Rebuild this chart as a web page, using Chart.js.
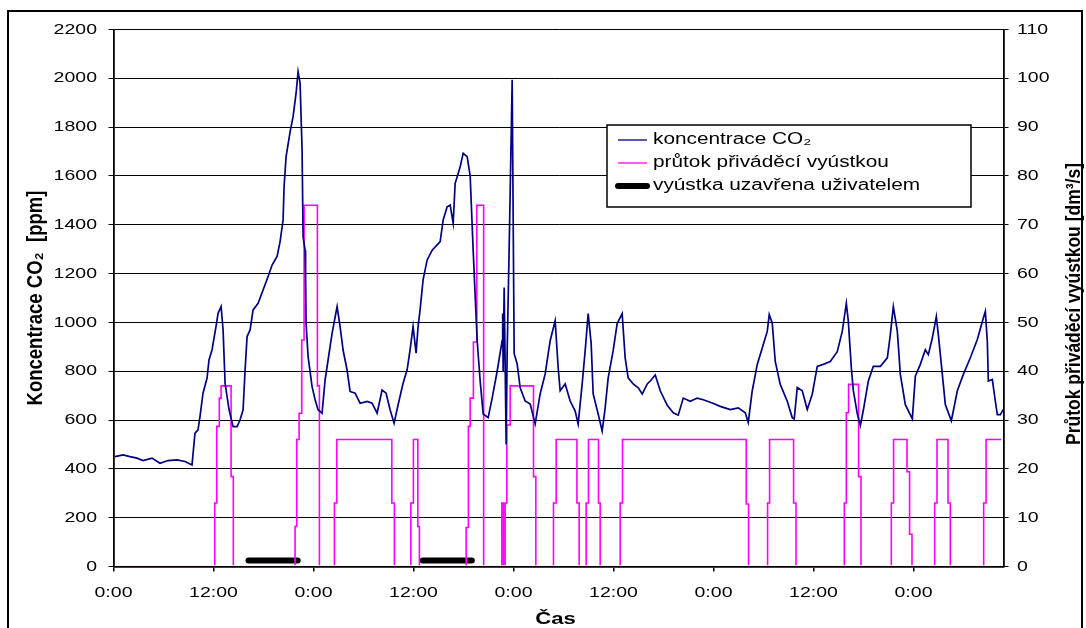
<!DOCTYPE html>
<html>
<head>
<meta charset="utf-8">
<script src="https://cdn.jsdelivr.net/npm/chart.js@4.4.1/dist/chart.umd.min.js"></script>
<style>
html,body{margin:0;padding:0;background:#fff;}
body{width:1086px;height:628px;overflow:hidden;position:relative;}
#frame{position:absolute;left:7px;top:10px;width:1076px;height:650px;border:2px solid #000;box-sizing:border-box;}
canvas{position:absolute;left:0;top:0;}
</style>
</head>
<body>
<div id="frame"></div>
<canvas id="chart" width="1086" height="628"></canvas>
<script>

// time in hours from the first 0:00, CO2 in ppm
const co2Hours=[0.18,1.14,1.98,2.82,3.54,4.62,5.58,6.54,7.62,8.58,
9.42,9.78,10.14,10.38,10.74,11.22,11.46,11.82,12.30,12.55,
12.91,13.15,13.39,13.63,13.87,14.35,14.83,15.19,15.55,15.79,
16.03,16.39,16.75,17.35,17.95,18.55,19.03,19.63,19.99,20.35,
20.47,20.71,21.19,21.55,21.91,22.15,22.39,22.63,22.75,22.99,
23.05,23.11,23.35,23.83,24.19,24.55,25.03,25.39,25.75,26.23,
26.83,27.19,27.55,28.03,28.39,28.99,29.59,30.43,31.03,31.63,
32.23,32.71,33.19,33.67,34.15,34.75,35.23,35.59,35.95,36.31,
36.55,36.79,37.15,37.64,38.24,39.20,39.56,40.04,40.40,40.76,
41.00,41.60,41.96,42.44,42.80,43.16,43.64,44.00,44.36,44.96,
45.44,46.04,46.64,46.70,46.76,46.88,47.12,47.24,47.48,47.72,
47.84,47.96,48.08,48.44,48.80,49.40,50.00,50.60,51.20,51.80,
52.40,53.00,53.36,53.60,54.20,54.80,55.40,55.76,56.24,56.60,
56.96,57.32,57.56,58.16,58.64,59.00,59.36,59.96,60.44,61.04,
61.40,61.76,62.36,62.97,63.45,64.05,64.41,65.01,65.61,66.45,
67.17,67.77,68.37,69.21,70.05,70.77,71.85,72.81,74.01,74.97,
75.81,76.17,76.65,77.25,77.85,78.45,78.69,79.05,79.41,80.01,
80.85,81.45,81.69,82.05,82.65,83.25,83.85,84.45,85.17,86.01,
86.85,87.45,87.94,88.18,88.54,88.78,89.26,89.62,89.98,90.58,
91.18,92.02,92.86,93.22,93.58,94.06,94.42,95.02,95.86,96.22,
96.82,97.42,97.78,98.26,98.74,98.98,99.46,99.82,100.54,101.26,
101.98,102.82,103.66,104.38,104.62,104.86,104.98,105.46,105.82,106.06,
106.42,106.78];

const co2Ppm=[450,457,450,444,434,444,423,434,437,430,
416,546,560,614,710,771,846,887,983,1038,
1065,969,751,696,642,573,573,601,642,805,
942,969,1051,1078,1133,1188,1235,1270,1331,1420,
1556,1679,1780,1843,1939,2027,1980,1706,1351,1296,
1187,996,860,737,683,642,628,764,846,955,
1065,983,887,805,717,710,669,676,669,628,
723,710,642,587,662,751,805,887,983,874,
983,1051,1174,1256,1296,1331,1420,1474,1481,1406,
1570,1638,1693,1679,1600,1295,925,760,625,610,
690,800,925,1036,800,1143,500,884,1308,1760,
1994,1431,872,830,732,678,666,584,707,789,
925,1007,814,720,748,678,637,584,748,884,
1036,913,707,625,555,650,773,884,995,1036,
855,773,748,732,707,748,760,785,720,660,
630,620,690,677,690,683,670,656,643,650,
630,590,720,828,895,963,1032,997,840,746,
677,610,605,733,720,643,706,820,828,840,
880,963,1078,1004,814,720,625,577,640,760,
820,820,855,950,1065,963,787,663,605,780,
828,888,868,936,1024,950,787,663,597,720,
787,855,930,1018,1045,922,760,766,677,622,
622,643];

// supply outlet flow [dm3/s]: hour where the value changes, and the new value
const flowHours=[0,
12.15,12.39,12.70,12.91,14.11,14.38,
21.79,21.99,22.27,22.59,22.87,24.47,24.71,
26.51,26.79,33.40,33.71,
35.68,35.99,36.52,36.71,
42.32,42.59,42.80,43.19,43.60,44.42,
46.60,46.80,47.00,47.20,47.60,50.40,50.68,
52.80,53.12,55.61,55.88,
56.72,57.00,58.20,58.40,
60.80,61.08,75.93,76.21,
78.49,78.73,81.61,81.90,
87.70,87.94,88.21,89.41,89.70,
93.34,93.61,95.22,95.53,95.82,
98.54,98.82,100.14,100.42,
104.42,104.71,106.51];

const flowValues=[0,
13,28.7,34.5,37,18.4,0,
8.2,26,31.4,46.4,74,37,0,
13,26,13,0,
13,26,8.2,0,
8,28.7,34.5,46,74,0,
13,0,13,29,37,18.4,0,
13,26,13,0,
13,26,13,0,
13,26,12.8,0,
13,26,13,0,
13,31.5,37.3,18.4,0,
13,26,19.4,6.6,0,
13,26,13,0,
13,26,26];

// periods when the outlet was closed by the user
const closedStart=[16.2,37.1];
const closedEnd=[22.1,43.0];
const closedLevel=25;

const timeLabels=["0:00","12:00"];
const seriesLabels=["koncentrace CO\u2082","průtok přiváděcí vyústkou","vyústka uzavřena uživatelem"];
const yTitle="Koncentrace CO\u2082  [ppm]";
const y2Title="Průtok přiváděcí vyústkou [dm\u00b3/s]";
const xTitle="Čas";

const FONT='"Liberation Sans", Arial, sans-serif';
const STRETCH=1.3;

function label(ctx,s,x,y,size,o){
o=o||{};
ctx.save();
ctx.translate(x,y);
if(o.vertical){ctx.rotate(-Math.PI/2);ctx.scale(1,o.stretch||STRETCH);}else{ctx.scale(o.stretch||STRETCH,1);}
ctx.font=(o.bold?"bold ":"")+size+"px "+FONT;
ctx.textAlign=o.align||"left";
ctx.textBaseline="middle";
ctx.fillStyle="#000";
ctx.fillText(s,0,0);
ctx.restore();
}

const co2Data=co2Hours.map((h,i)=>({x:h,y:co2Ppm[i]}));
const flowData=flowHours.map((h,i)=>({x:h,y:flowValues[i]}));
const closedData=[];
closedStart.forEach((s,i)=>{
closedData.push({x:s,y:closedLevel});
closedData.push({x:closedEnd[i],y:closedLevel});
closedData.push({x:closedEnd[i]+1,y:null});
});

const textPlugin={
id:"texts",
afterDraw(chart){
const ctx=chart.ctx;
const sx=chart.scales.x, sy=chart.scales.y, sy2=chart.scales.y2;
const area=chart.chartArea;
const midY=(area.top+area.bottom)/2;

sy.ticks.forEach(t=>label(ctx,String(t.value),sy.right-16.5,sy.getPixelForValue(t.value),15,{align:"right"}));
sy2.ticks.forEach(t=>label(ctx,String(t.value),sy2.left+13.5,sy2.getPixelForValue(t.value),15));
sx.ticks.forEach(t=>label(ctx,timeLabels[Math.round(t.value/12)%2],sx.getPixelForValue(t.value),593,15,{align:"center"}));

label(ctx,yTitle,36,midY,18.5,{bold:true,align:"center",vertical:true,stretch:1.15});
label(ctx,y2Title,1074,midY+6,17.5,{bold:true,align:"center",vertical:true,stretch:1.15});
label(ctx,xTitle,(area.left+area.right)/2-3,619,17,{bold:true,align:"center"});

// legend box
const lx=607, ly=125, lw=364, lh=82;
ctx.save();
ctx.fillStyle="#fff";
ctx.fillRect(lx,ly,lw,lh);
ctx.strokeStyle="#000";
ctx.lineWidth=1.5;
ctx.strokeRect(lx,ly,lw,lh);
chart.data.datasets.forEach((ds,i)=>{
const yy=ly+15+i*23;
ctx.beginPath();
ctx.moveTo(lx+11,yy);
ctx.lineTo(lx+40,yy);
ctx.strokeStyle=ds.borderColor;
ctx.lineWidth=i===2?6:1.3;
ctx.lineCap=i===2?"round":"butt";
ctx.stroke();
label(ctx,ds.label,lx+46,yy,16);
});
ctx.restore();
}
};

new Chart(document.getElementById("chart"),{
type:"line",
data:{
datasets:[
{label:seriesLabels[0],data:co2Data,yAxisID:"y",borderColor:"#000080",borderWidth:1.7,pointRadius:0,tension:0},
{label:seriesLabels[1],data:flowData,yAxisID:"y2",borderColor:"#ff00ff",borderWidth:1.6,pointRadius:0,stepped:"before",clip:{left:0,top:0,right:0,bottom:-1.2}},
{label:seriesLabels[2],data:closedData,yAxisID:"y",borderColor:"#000",borderWidth:6,borderCapStyle:"round",pointRadius:0,spanGaps:false}
]
},
options:{
responsive:false,
animation:false,
devicePixelRatio:1,
layout:{padding:{top:29.5,left:0,right:0,bottom:0}},
plugins:{legend:{display:false},tooltip:{enabled:false}},
scales:{
x:{
type:"linear",min:0,max:106.8,bounds:"data",
ticks:{display:false,stepSize:12,includeBounds:false},
grid:{drawOnChartArea:false,color:"#000",tickLength:5,lineWidth:1.5},
border:{color:"#000",width:1.8,z:1},
afterFit(s){s.height=61.5;}
},
y:{
position:"left",min:0,max:2200,
ticks:{display:false,stepSize:200},
grid:{color:"#000",lineWidth:1,tickLength:5},
border:{color:"#000",width:1.8},
afterFit(s){s.width=113.5;}
},
y2:{
position:"right",min:0,max:110,
ticks:{display:false,stepSize:10},
grid:{drawOnChartArea:false,color:"#000",tickLength:5,lineWidth:1},
border:{color:"#000",width:1.8},
afterFit(s){s.width=82.5;}
}
}
},
plugins:[textPlugin]
});
</script>
</body>
</html>
